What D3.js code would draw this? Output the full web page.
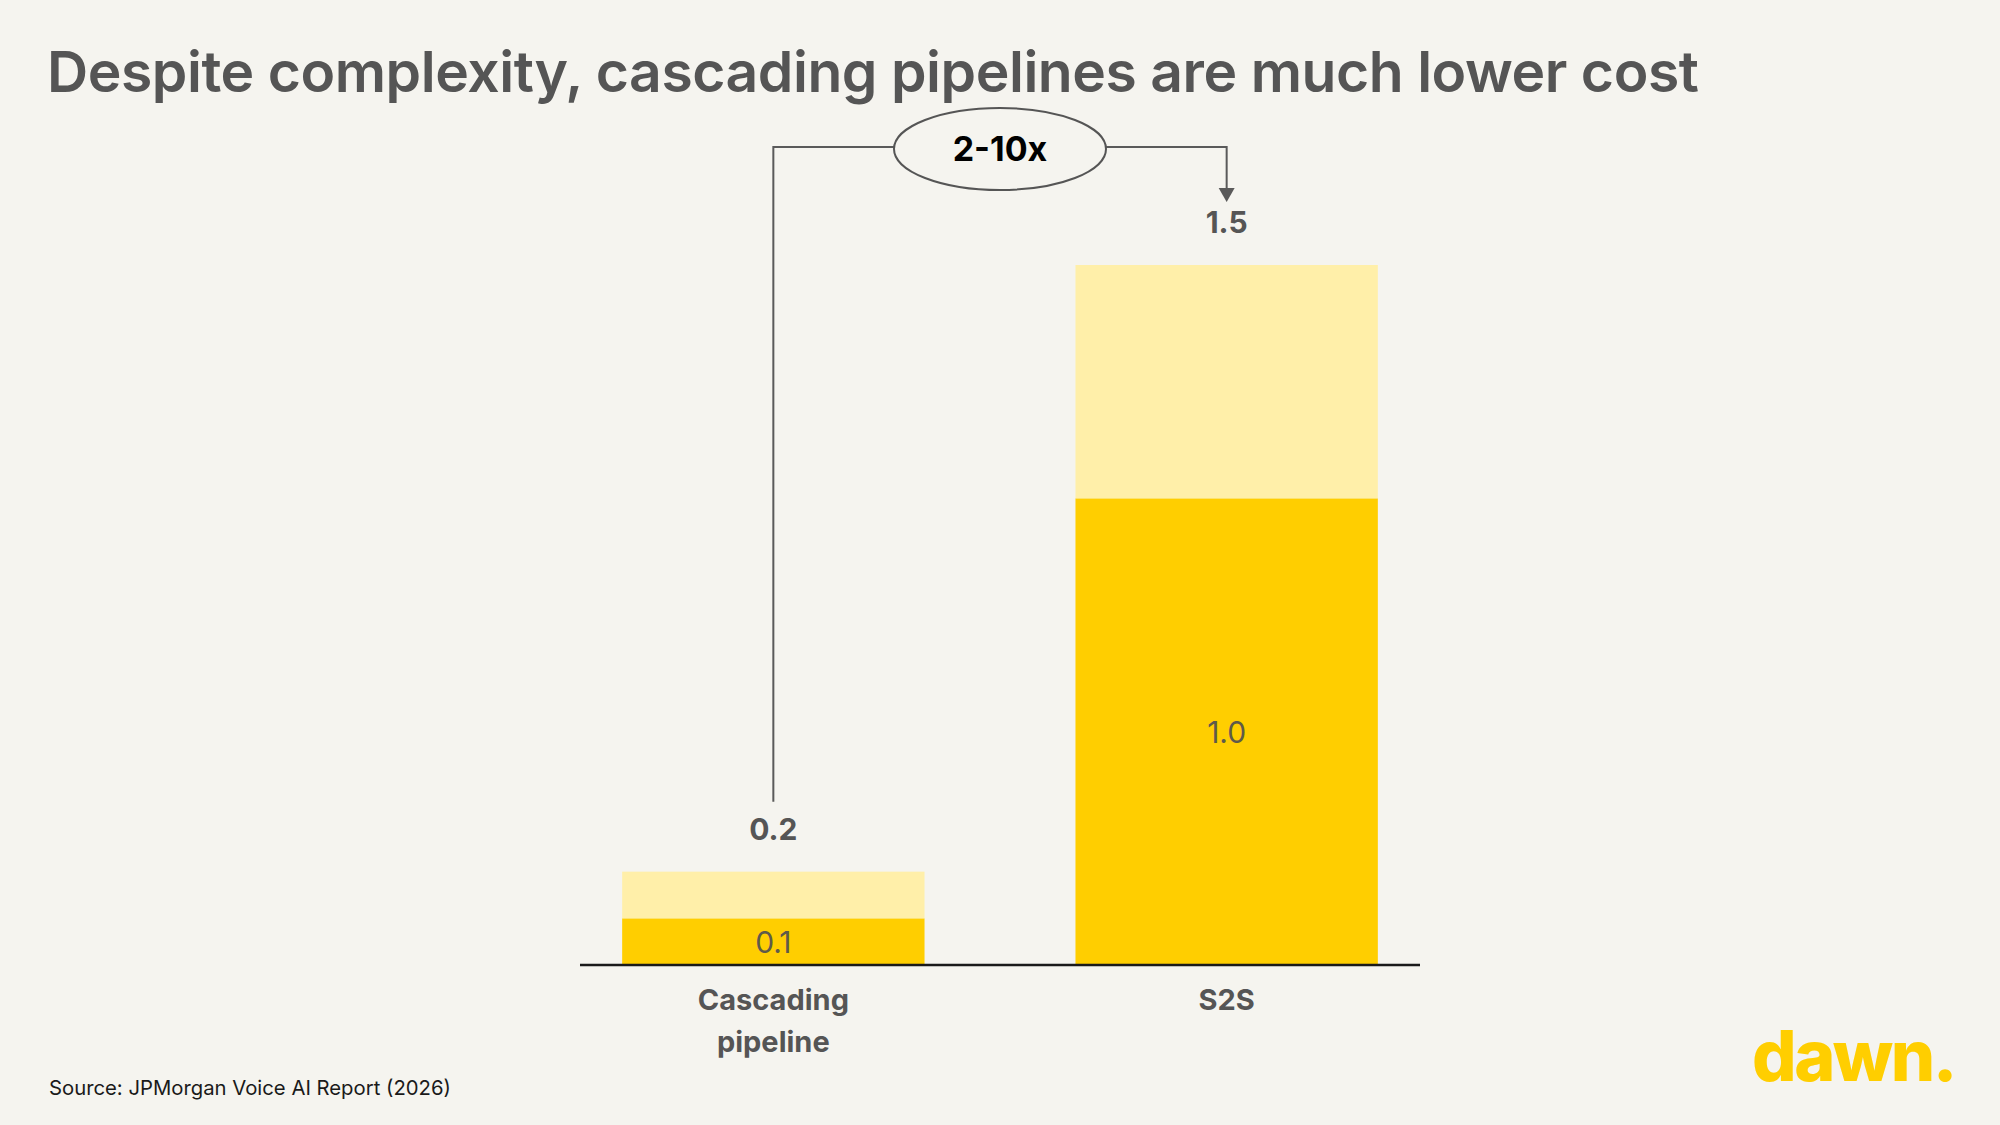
<!DOCTYPE html>
<html>
<head>
<meta charset="utf-8">
<script src="https://cdn.jsdelivr.net/npm/d3@7"></script>
<style>
  html, body { margin: 0; padding: 0; background: #f5f4ef; }
  svg { display: block; font-family: "Inter", "Lato", sans-serif; }
</style>
</head>
<body>
<div id="graph"></div>
<script>
const W = 2000, H = 1125;

// data
const categories = ["Cascading pipeline", "S2S"];
const categoryLines = [["Cascading", "pipeline"], ["S2S"]];
const baseValues = [0.1, 1.0];     // dark segment
const extraValues = [0.1, 0.5];    // light segment on top
const totals = [0.2, 1.5];
const baseLabels = ["0.1", "1.0"];
const totalLabels = ["0.2", "1.5"];
const bracketLabel = "2-10x";

const titleText = "Despite complexity, cascading pipelines are much lower cost";
const sourceText = "Source: JPMorgan Voice AI Report (2026)";

// plot area
const plot = {left: 580, right: 1420, top: 265, bottom: 965};

const svg = d3.select("#graph")
  .append("svg")
  .attr("width", W)
  .attr("height", H);

svg.append("rect")
  .attr("width", W).attr("height", H)
  .attr("fill", "#f5f4ef");

// scales
const x = d3.scaleBand()
  .domain(categories)
  .range([plot.left, plot.right])
  .paddingInner(0.333)
  .paddingOuter(0.093);

const y = d3.scaleLinear()
  .domain([0, 1.5])
  .range([plot.bottom, plot.top]);

// bars
const g = svg.append("g");

g.selectAll(".base")
  .data(categories)
  .join("rect")
  .attr("class", "base")
  .attr("x", d => x(d))
  .attr("width", x.bandwidth())
  .attr("y", (d, i) => y(baseValues[i]))
  .attr("height", (d, i) => y(0) - y(baseValues[i]))
  .attr("fill", "#ffce00");

g.selectAll(".extra")
  .data(categories)
  .join("rect")
  .attr("class", "extra")
  .attr("x", d => x(d))
  .attr("width", x.bandwidth())
  .attr("y", (d, i) => y(baseValues[i] + extraValues[i]))
  .attr("height", (d, i) => y(baseValues[i]) - y(baseValues[i] + extraValues[i]))
  .attr("fill", "#ffefa9");

// inner labels
g.selectAll(".baseLabel")
  .data(categories)
  .join("text")
  .attr("class", "baseLabel")
  .attr("x", d => x(d) + x.bandwidth() / 2)
  .attr("y", (d, i) => (y(0) + y(baseValues[i])) / 2 + 11)
  .attr("text-anchor", "middle")
  .attr("font-size", 30)
  .attr("font-weight", 400)
  .attr("fill", "#5f5a4a")
  .text((d, i) => baseLabels[i]);

// total labels
g.selectAll(".totalLabel")
  .data(categories)
  .join("text")
  .attr("class", "totalLabel")
  .attr("x", d => x(d) + x.bandwidth() / 2)
  .attr("y", (d, i) => y(totals[i]) - 32)
  .attr("text-anchor", "middle")
  .attr("font-size", 30)
  .attr("font-weight", 700)
  .attr("fill", "#555555")
  .text((d, i) => totalLabels[i]);

// x axis
const xAxis = svg.append("g")
  .attr("transform", `translate(0,${plot.bottom})`)
  .call(d3.axisBottom(x).tickSize(0).tickFormat(""));
xAxis.select(".domain")
  .attr("d", `M${plot.left},0H${plot.right}`)
  .attr("stroke", "#1a1a1a")
  .attr("stroke-width", 2.5);

const catText = svg.append("g").selectAll("text")
  .data(categories)
  .join("text")
  .attr("x", d => x(d) + x.bandwidth() / 2)
  .attr("y", plot.bottom + 45)
  .attr("text-anchor", "middle")
  .attr("font-size", 29)
  .attr("font-weight", 700)
  .attr("fill", "#555555");
catText.selectAll("tspan")
  .data((d, i) => categoryLines[i])
  .join("tspan")
  .attr("x", function() { return this.parentNode.getAttribute("x"); })
  .attr("dy", (d, i) => i === 0 ? 0 : 42)
  .text(d => d);

// bracket annotation
const cx0 = x(categories[0]) + x.bandwidth() / 2;
const cx1 = x(categories[1]) + x.bandwidth() / 2;
const ellCx = (cx0 + cx1) / 2;
const lineY = 147;
const rx = 106, ry = 41;

svg.append("path")
  .attr("d", `M${cx0},${y(totals[0]) - 70}V${lineY}H${ellCx - rx}`)
  .attr("fill", "none")
  .attr("stroke", "#5a5a5a")
  .attr("stroke-width", 2);

svg.append("path")
  .attr("d", `M${ellCx + rx},${lineY}H${cx1}V${y(totals[1]) - 66}`)
  .attr("fill", "none")
  .attr("stroke", "#5a5a5a")
  .attr("stroke-width", 2);

svg.append("path")
  .attr("d", `M${cx1 - 8},${y(totals[1]) - 77}L${cx1 + 8},${y(totals[1]) - 77}L${cx1},${y(totals[1]) - 63}Z`)
  .attr("fill", "#5a5a5a");

svg.append("ellipse")
  .attr("cx", ellCx).attr("cy", lineY + 2)
  .attr("rx", rx).attr("ry", ry)
  .attr("fill", "#f5f4ef")
  .attr("stroke", "#555555")
  .attr("stroke-width", 2);

svg.append("text")
  .attr("x", ellCx).attr("y", lineY + 14)
  .attr("text-anchor", "middle")
  .attr("font-size", 34)
  .attr("font-weight", 700)
  .attr("fill", "#000")
  .text(bracketLabel);

// title
svg.append("text")
  .attr("x", 47).attr("y", 92)
  .attr("font-size", 57)
  .attr("font-weight", 600)
  .attr("letter-spacing", -0.45)
  .attr("fill", "#555555")
  .text(titleText);

// source
svg.append("text")
  .attr("x", 49).attr("y", 1095)
  .attr("font-size", 20.3)
  .attr("fill", "#1a1a1a")
  .text(sourceText);

// logo
svg.append("text")
  .attr("x", 1752).attr("y", 1081)
  .attr("font-size", 70)
  .attr("font-weight", 800)
  .attr("letter-spacing", -2.5)
  .attr("fill", "#ffce00")
  .text("dawn.");
</script>
</body>
</html>
